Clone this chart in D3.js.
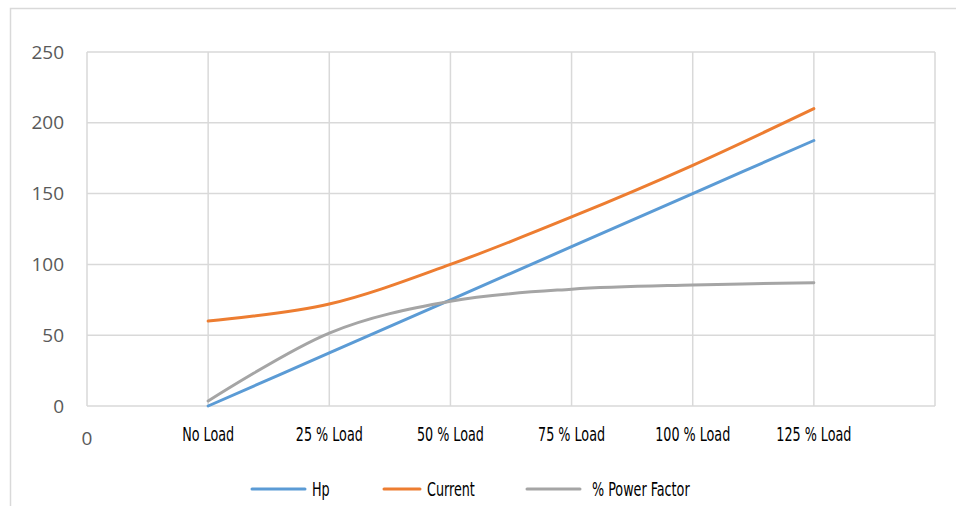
<!DOCTYPE html>
<html lang="en">
<head>
  <meta charset="UTF-8" />
  <title>Load test chart</title>
  <style>
    body { margin: 0; background: #fff; }
    .ytick { font-family: "Open Sans", sans-serif; font-size: 19px; fill: #595959; }
    .narrow { font-family: "DejaVu Sans Condensed", "DejaVu Sans", sans-serif; font-stretch: condensed; font-size: 20px; fill: #000; }
  </style>
</head>
<body>
  <svg id="chart" width="956" height="506"></svg>

  <script src="https://cdn.jsdelivr.net/npm/d3@7"></script>
  <script>
    // Data
    const categories = ["No Load", "25 % Load", "50 % Load", "75 % Load", "100 % Load", "125 % Load"];
    const hp = [0, 37.5, 75, 112.5, 150, 187.5];
    const current = [60, 72, 100, 133.5, 170, 210];
    const powerFactor = [3.5, 51.5, 74, 82.5, 85.5, 87];
    const yTicks = [0, 50, 100, 150, 200, 250];

    const series = [
      { name: "Hp", values: hp, color: "#5B9BD5" },
      { name: "Current", values: current, color: "#ED7D31" },
      { name: "% Power Factor", values: powerFactor, color: "#A5A5A5" }
    ];

    const svg = d3.select("#chart");

    // Outer chart frame (top and left edges only are visible)
    svg.append("path")
      .attr("d", "M10.5,506 V8.5 H956")
      .attr("fill", "none")
      .attr("stroke", "#d9d9d9")
      .attr("stroke-width", 1.5);

    // Scales: categories sit at positions 1..6, position 0 is labelled "0"
    const x = d3.scaleLinear().domain([0, categories.length + 1]).range([87, 935]);
    const y = d3.scaleLinear().domain([0, 250]).range([406, 52]);

    // Grid
    const grid = svg.append("g").attr("stroke", "#d9d9d9").attr("stroke-width", 1.5);
    grid.selectAll(".h").data(yTicks).enter().append("line")
      .attr("x1", x(0)).attr("x2", x(categories.length + 1))
      .attr("y1", d => y(d)).attr("y2", d => y(d));
    grid.selectAll(".v").data(d3.range(0, categories.length + 2)).enter().append("line")
      .attr("x1", d => x(d)).attr("x2", d => x(d))
      .attr("y1", y(0)).attr("y2", y(250));

    // Y tick labels
    svg.selectAll(".ytick").data(yTicks).enter().append("text")
      .attr("class", "ytick")
      .attr("x", 64)
      .attr("y", d => y(d))
      .attr("dy", "0.35em")
      .attr("text-anchor", "end")
      .text(d => d);

    // X tick labels
    svg.append("text")
      .attr("class", "ytick")
      .attr("x", x(0))
      .attr("y", 445)
      .attr("text-anchor", "middle")
      .text("0");

    // the source font is a condensed one, squeeze ours to the same width
    const probe = svg.append("text").attr("class", "narrow").text("No Load");
    const squeeze = 52 / probe.node().getComputedTextLength();
    probe.remove();

    svg.selectAll(".xtick").data(categories).enter().append("text")
      .attr("class", "narrow")
      .attr("transform", (d, i) => `translate(${x(i + 1)},441) scale(${squeeze},1)`)
      .attr("text-anchor", "middle")
      .text(d => d);

    // Smoothed lines
    const line = d3.line()
      .x((d, i) => x(i + 1))
      .y(d => y(d))
      .curve(d3.curveCatmullRom.alpha(0));

    svg.selectAll(".series").data(series).enter().append("path")
      .attr("fill", "none")
      .attr("stroke", d => d.color)
      .attr("stroke-width", 3)
      .attr("stroke-linecap", "round")
      .attr("d", d => line(d.values));

    // Legend
    const legendX = [252, 384, 527];
    const legendLen = [53, 36, 53];
    series.forEach((s, i) => {
      const g = svg.append("g").attr("transform", `translate(${legendX[i]},489)`);
      g.append("line")
        .attr("x1", 0).attr("x2", legendLen[i])
        .attr("stroke", s.color).attr("stroke-width", 3).attr("stroke-linecap", "round");
      g.append("text")
        .attr("class", "narrow")
        .attr("transform", `translate(${legendLen[i] + (i === 2 ? 12 : 7)},0) scale(${squeeze},1)`)
        .attr("dy", "0.35em")
        .text(s.name);
    });
  </script>
</body>
</html>
